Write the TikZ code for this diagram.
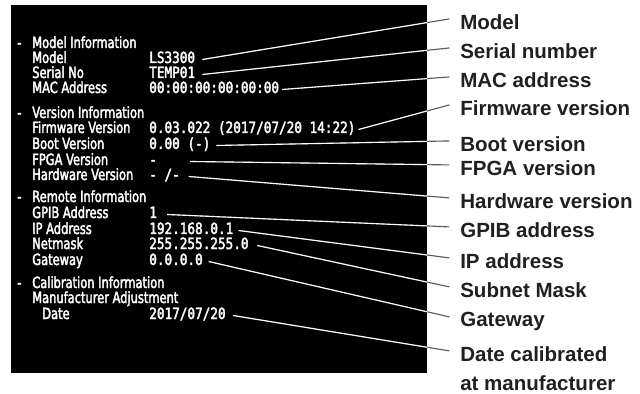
\documentclass[tikz,border=0pt]{standalone}
\usepackage{fontspec}
\setmainfont{Liberation Sans}
\newfontfamily\scrfont[FakeStretch=0.74,FakeBold=2.4]{DejaVu Sans}
\newfontfamily\scrmono[FakeStretch=0.82,FakeBold=2.4]{DejaVu Sans Mono}
\usetikzlibrary{positioning}
\definecolor{calloutgray}{HTML}{231F20}
\definecolor{leadergray}{HTML}{5A5A5A}

\tikzset{
    scrtext/.style={anchor=base west,inner sep=0pt,text=white,
        font=\scrfont\fontsize{11}{12}\selectfont},
    scrval/.style={anchor=base west,inner sep=0pt,text=white,
        text height=7pt,text depth=2pt,font=\scrmono\fontsize{11}{12}\selectfont},
    callout/.style={anchor=north west,inner sep=0pt,text=calloutgray,align=left,
        font=\bfseries\fontsize{14.6}{20.8}\selectfont},
    leader/.style={draw=leadergray,line width=0.8pt}
}

% value node / callout node / gap after the value
\def\leaderlist{vModel/cModel/5pt, vSerial/cSerial/5pt, vMAC/cMAC/2pt,
    vFirmware/cFirmware/2pt, vBoot/cBoot/4pt, vFPGA/cFPGA/23.5pt,
    vHardware/cHardware/6pt, vGPIB/cGPIB/7pt, vIP/cIP/3.5pt,
    vNetmask/cSubnet/6pt, vGateway/cGateway/4pt, vDate/cDate/5pt}

\begin{document}
\begin{tikzpicture}[x=0.025cm,y=-0.025cm]
    \useasboundingbox (0,0) rectangle (640,394);
    \coordinate (scrNW) at (11,5);
    \coordinate (scrSE) at (427,373);
    \fill[black] (scrNW) rectangle (scrSE);

    % model
    \node[scrtext] (dModel) at (17,48) {-};
    \node[scrtext] (hModel) at (32,48) {Model Information};
    \node[scrtext] (tModel) at (32,63) {Model};
    \node[scrval] (vModel) at (149,63) {LS3300};
    \node[scrtext] (tSerial) at (32,78) {Serial No};
    \node[scrval] (vSerial) at (149,78) {TEMP01};
    \node[scrtext] (tMAC) at (32,93) {MAC Address};
    \node[scrval] (vMAC) at (149,93) {00:00:00:00:00:00};

    % version
    \node[scrtext] (dVersion) at (17,118) {-};
    \node[scrtext] (hVersion) at (32,118) {Version Information};
    \node[scrtext] (tFirmware) at (32,133) {Firmware Version};
    \node[scrval] (vFirmware) at (149,133) {0.03.022 (2017/07/20 14:22)};
    \node[scrtext] (tBoot) at (32,149) {Boot Version};
    \node[scrval] (vBoot) at (149,149) {0.00 (-)};
    \node[scrtext] (tFPGA) at (32,165) {FPGA Version};
    \node[scrval] (vFPGA) at (149,165) {-};
    \node[scrtext] (tHardware) at (32,180) {Hardware Version};
    \node[scrval] (vHardware) at (149,180) {- /-};

    % remote
    \node[scrtext] (dRemote) at (17,202) {-};
    \node[scrtext] (hRemote) at (32,202) {Remote Information};
    \node[scrtext] (tGPIB) at (32,218) {GPIB Address};
    \node[scrval] (vGPIB) at (149,218) {1};
    \node[scrtext] (tIP) at (32,234) {IP Address};
    \node[scrval] (vIP) at (149,234) {192.168.0.1};
    \node[scrtext] (tNetmask) at (32,249) {Netmask};
    \node[scrval] (vNetmask) at (149,249) {255.255.255.0};
    \node[scrtext] (tGateway) at (32,265) {Gateway};
    \node[scrval] (vGateway) at (149,265) {0.0.0.0};

    % calibration
    \node[scrtext] (dCal) at (17,288) {-};
    \node[scrtext] (hCal) at (32,288) {Calibration Information};
    \node[scrtext] (tAdjust) at (32,303) {Manufacturer Adjustment};
    \node[scrtext] (tDate) at (42,319) {Date};
    \node[scrval] (vDate) at (149,319) {2017/07/20};

    % callouts
    \node[callout] (cModel) at (460,14) {Model};
    \node[callout] (cSerial) at (460,43) {Serial number};
    \node[callout] (cMAC) at (460,72) {MAC address};
    \node[callout] (cFirmware) at (460,100) {Firmware version};
    \node[callout] (cBoot) at (460,136) {Boot version};
    \node[callout] (cFPGA) at (460,160) {FPGA version};
    \node[callout] (cHardware) at (460,193) {Hardware version};
    \node[callout] (cGPIB) at (460,222) {GPIB address};
    \node[callout] (cIP) at (460,253) {IP address};
    \node[callout] (cSubnet) at (460,282) {Subnet Mask};
    \node[callout] (cGateway) at (460,312) {Gateway};
    \node[callout] (cDate) at (460,346) {Date calibrated\\at manufacturer};

    \foreach \v/\c/\g in \leaderlist
        \draw[leader] ([xshift=\g]\v.east) -- ([xshift=-7.5pt,yshift=-3.5pt]\c.north west);
    \begin{scope}
        \clip (scrNW) rectangle (scrSE);
        \foreach \v/\c/\g in \leaderlist
            \draw[leader,draw=white] ([xshift=\g]\v.east) -- ([xshift=-7.5pt,yshift=-3.5pt]\c.north west);
    \end{scope}
\end{tikzpicture}
\end{document}
